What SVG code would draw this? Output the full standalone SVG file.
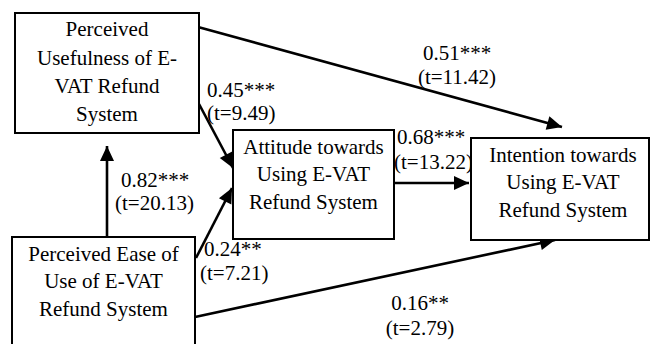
<svg xmlns="http://www.w3.org/2000/svg" width="651" height="344" viewBox="0 0 651 344">
<style>
.box{fill:#fff;stroke:#000;stroke-width:2}
.t{font-family:'Liberation Serif','Times New Roman',Times,'DejaVu Serif',serif;font-size:21px;fill:#000}
.c{text-anchor:middle}
.e{fill:none;stroke:#000;stroke-width:2.6}
</style>
<defs>
<marker id="ah" markerUnits="userSpaceOnUse" markerWidth="16" markerHeight="14" refX="15" refY="7" orient="auto" overflow="visible">
<path d="M0,0 L15,7 L0,14 z" fill="#000"/>
</marker>
</defs>
<rect width="651" height="344" fill="#fff"/>
<g id="connectors">
<line class="e" x1="198" y1="27" x2="562" y2="127" marker-end="url(#ah)"/>
<line class="e" x1="199" y1="104" x2="233" y2="168" marker-end="url(#ah)"/>
<line class="e" x1="107" y1="237" x2="107" y2="146" marker-end="url(#ah)"/>
<line class="e" x1="196" y1="258" x2="232" y2="188" marker-end="url(#ah)"/>
<line class="e" x1="394" y1="183" x2="469" y2="183" marker-end="url(#ah)"/>
<line class="e" x1="195" y1="317" x2="555" y2="240" marker-end="url(#ah)"/>
<text class="t c" x="457" y="60" font-family="Liberation Serif, serif">0.51***</text>
<text class="t c" x="457" y="84" font-family="Liberation Serif, serif">(t=11.42)</text>
<text class="t" x="207" y="97" font-family="Liberation Serif, serif">0.45***</text>
<text class="t" x="207" y="120" font-family="Liberation Serif, serif">(t=9.49)</text>
<text class="t" x="397" y="144" font-family="Liberation Serif, serif">0.68***</text>
<text class="t" x="394" y="169" font-family="Liberation Serif, serif">(t=13.22)</text>
<text class="t" x="121" y="187" font-family="Liberation Serif, serif">0.82***</text>
<text class="t" x="115" y="210" font-family="Liberation Serif, serif">(t=20.13)</text>
<text class="t" x="204" y="256" font-family="Liberation Serif, serif">0.24**</text>
<text class="t" x="200" y="280" font-family="Liberation Serif, serif">(t=7.21)</text>
<text class="t c" x="420" y="310" font-family="Liberation Serif, serif">0.16**</text>
<text class="t c" x="420" y="335" font-family="Liberation Serif, serif">(t=2.79)</text>
</g>
<g id="pu">
<rect class="box" x="15" y="13" width="184" height="120"/>
<text class="t c" x="107" y="36">Perceived</text>
<text class="t c" x="107" y="65">Usefulness of E-</text>
<text class="t c" x="107" y="93">VAT Refund</text>
<text class="t c" x="107" y="121">System</text>
</g>
<g id="peou">
<rect class="box" x="12" y="237" width="183" height="120"/>
<text class="t c" x="103.5" y="261">Perceived Ease of</text>
<text class="t c" x="103.5" y="288">Use of E-VAT</text>
<text class="t c" x="103.5" y="316">Refund System</text>
</g>
<g id="attitude">
<rect class="box" x="233" y="130" width="161" height="109"/>
<text class="t c" x="313.5" y="154">Attitude towards</text>
<text class="t c" x="313.5" y="181">Using E-VAT</text>
<text class="t c" x="313.5" y="209">Refund System</text>
</g>
<g id="intention">
<rect class="box" x="471" y="138" width="178" height="102"/>
<text class="t c" x="563" y="162">Intention towards</text>
<text class="t c" x="563" y="189">Using E-VAT</text>
<text class="t c" x="563" y="217">Refund System</text>
</g>
</svg>
